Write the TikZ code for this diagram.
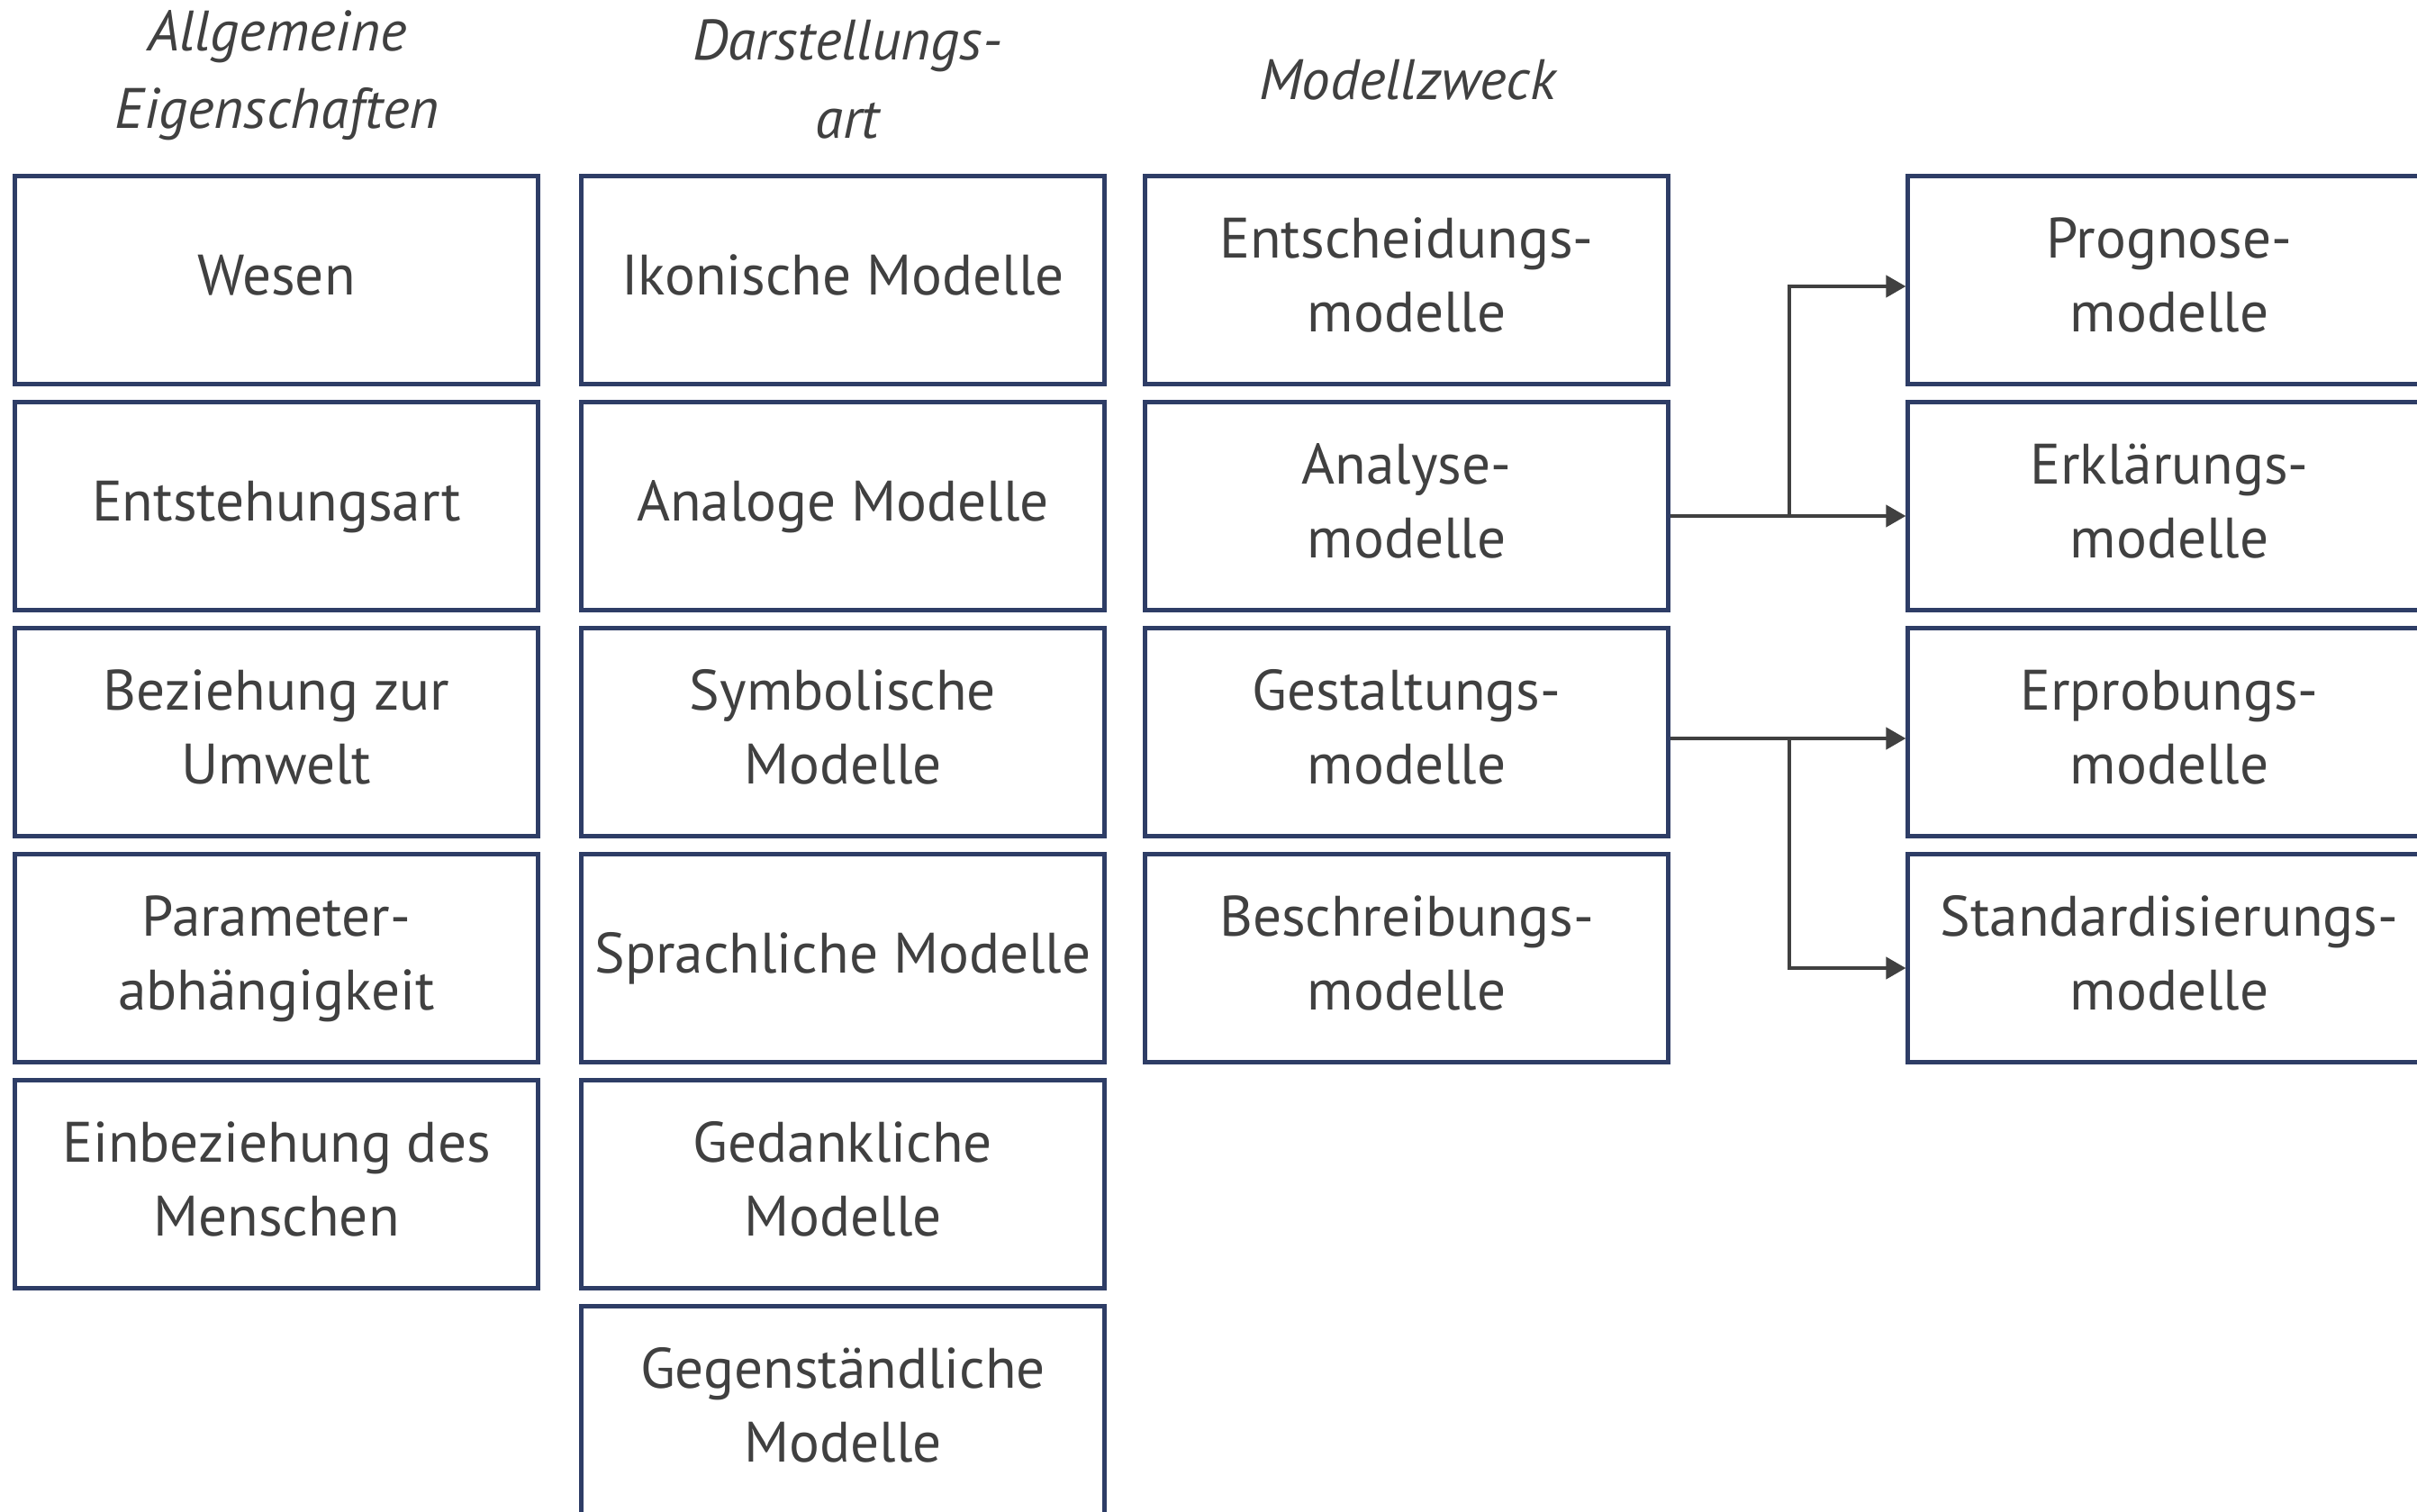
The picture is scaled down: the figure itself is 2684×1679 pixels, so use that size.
\documentclass[tikz,border=0pt]{standalone}
\usepackage{fontspec}
\setmainfont{PT Sans}
\usetikzlibrary{arrows.meta,calc}
\definecolor{boxblue}{HTML}{2E3D66}
\definecolor{txt}{HTML}{404040}
\newcommand\boxtxt[1]{\begin{tabular}{@{}c@{}}#1\end{tabular}}
\begin{document}
\begin{tikzpicture}[x=0.01cm,y=-0.01cm,
  mbox/.style={draw=boxblue, line width=1.4pt, minimum width=5.8cm, minimum height=2.3cm,
    text=txt, font=\fontsize{18}{23.3}\selectfont, inner sep=0pt},
  hdr/.style={align=center, text=txt, font=\itshape\fontsize{18}{24.5}\selectfont},
  conn/.style={draw=txt, line width=1.2pt, -{Triangle[length=0.22cm,width=0.24cm]}}]
\useasboundingbox (0,0) rectangle (2684,1679);
% headers
\node[hdr] (h1) at (308,84) {Allgemeine\\Eigenschaften};
\node[hdr] (h2) at (941,88) {Darstellungs-\\art};
\node[hdr] (h3) at (1563,89) {Modellzweck};
% column 1
\node[mbox] (wes) at (307,311) {\boxtxt{Wesen}};
\node[mbox] (ent) at (307,562) {\boxtxt{Entstehungsart}};
\node[mbox] (bez) at (307,813) {\boxtxt{Beziehung zur\\Umwelt}};
\node[mbox] (par) at (307,1064) {\boxtxt{Parameter-\\abhängigkeit}};
\node[mbox] (ein) at (307,1315) {\boxtxt{Einbeziehung des\\Menschen}};
% column 2
\node[mbox] (iko) at (936,311) {\boxtxt{Ikonische Modelle}};
\node[mbox] (anl) at (936,562) {\boxtxt{Analoge Modelle}};
\node[mbox] (sym) at (936,813) {\boxtxt{Symbolische\\Modelle}};
\node[mbox] (spr) at (936,1064) {\boxtxt{Sprachliche Modelle}};
\node[mbox] (ged) at (936,1315) {\boxtxt{Gedankliche\\Modelle}};
\node[mbox] (geg) at (936,1566) {\boxtxt{Gegenständliche\\Modelle}};
% column 3
\node[mbox] (ents) at (1562,311) {\boxtxt{Entscheidungs-\\modelle}};
\node[mbox] (ana) at (1562,562) {\boxtxt{Analyse-\\modelle}};
\node[mbox] (ges) at (1562,813) {\boxtxt{Gestaltungs-\\modelle}};
\node[mbox] (bes) at (1562,1064) {\boxtxt{Beschreibungs-\\modelle}};
% column 4
\node[mbox] (pro) at (2409,311) {\boxtxt{Prognose-\\modelle}};
\node[mbox] (erk) at (2409,562) {\boxtxt{Erklärungs-\\modelle}};
\node[mbox] (erp) at (2409,813) {\boxtxt{Erprobungs-\\modelle}};
\node[mbox] (sta) at (2409,1064) {\boxtxt{Standardisierungs-\\modelle}};
% connectors
\coordinate (b1) at (1987,573);
\coordinate (b2) at (1987,820);
\draw[conn] ($(ana.east)+(0,11)$) -- ($(erk.west)+(0,11)$);
\draw[conn] (b1) |- ($(pro.west)+(0,7)$);
\draw[conn] ($(ges.east)+(0,7)$) -- ($(erp.west)+(0,7)$);
\draw[conn] (b2) |- ($(sta.west)+(0,11)$);
\end{tikzpicture}
\end{document}
